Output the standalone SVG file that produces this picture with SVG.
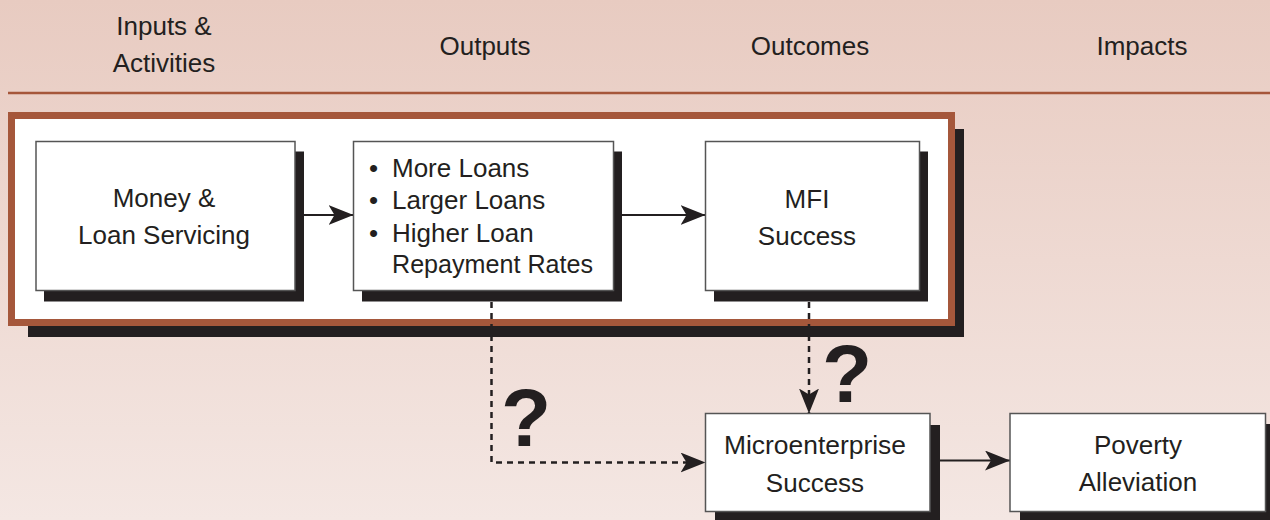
<svg xmlns="http://www.w3.org/2000/svg" width="1270" height="520" viewBox="0 0 1270 520">
<defs>
<linearGradient id="bg" x1="0" y1="0" x2="0" y2="1">
<stop offset="0" stop-color="#e8cbc1"/>
<stop offset="1" stop-color="#f4e7e3"/>
</linearGradient>
<marker id="ah" viewBox="0 0 25 20" refX="25" refY="10" markerWidth="25" markerHeight="20" markerUnits="userSpaceOnUse" orient="auto">
<path d="M0,0 L25,10 L0,20 L6,10 Z" fill="#231f20"/>
</marker>
<style>
.hd{font-family:"Liberation Sans",Arial,sans-serif;font-size:26px;fill:#231f20;text-anchor:middle}
.tx{font-family:"Liberation Sans",Arial,sans-serif;font-size:26px;fill:#231f20;text-anchor:middle}
.tl{font-family:"Liberation Sans",Arial,sans-serif;font-size:26px;fill:#231f20}
.q{font-family:"Liberation Sans",Arial,sans-serif;font-size:82px;font-weight:bold;fill:#231f20;text-anchor:middle}
.box{fill:#fff;stroke:#555;stroke-width:1.5}
.sh{fill:#231f20}
.ln{stroke:#231f20;stroke-width:2;fill:none}
.dl{stroke:#231f20;stroke-width:2.5;fill:none;stroke-dasharray:6 5}
</style>
</defs>
<rect x="0" y="0" width="1270" height="520" fill="url(#bg)"/>
<g id="headers">
<text class="hd" x="164" y="35">Inputs &amp;</text>
<text class="hd" x="164" y="72">Activities</text>
<text class="hd" x="485" y="55">Outputs</text>
<text class="hd" x="810" y="55">Outcomes</text>
<text class="hd" x="1142" y="55">Impacts</text>
<line x1="8" y1="93" x2="1270" y2="93" stroke="#a5563a" stroke-width="2.5"/>
</g>
<g id="frame">
<rect class="sh" x="28" y="129" width="936" height="208"/>
<rect x="11.5" y="115.5" width="940" height="207" fill="#fff" stroke="#a5573b" stroke-width="7"/>
</g>
<g id="connectors">
<line class="ln" x1="304" y1="215" x2="353.5" y2="215" marker-end="url(#ah)"/>
<line class="ln" x1="622" y1="215" x2="705.5" y2="215" marker-end="url(#ah)"/>
<path class="dl" d="M491.5,302 L491.5,462.5 L705.5,462.5" marker-end="url(#ah)"/>
<line class="dl" x1="809" y1="302" x2="809" y2="413.5" marker-end="url(#ah)"/>
<line class="ln" x1="940" y1="460.5" x2="1010" y2="460.5" marker-end="url(#ah)"/>
</g>
<g id="node-money">
<rect class="sh" x="44" y="151.5" width="260" height="150"/>
<rect class="box" x="36" y="141.5" width="259" height="149"/>
<text class="tx" x="164" y="207">Money &amp;</text>
<text class="tx" x="164" y="244">Loan Servicing</text>
</g>
<g id="node-outputs">
<rect class="sh" x="362" y="151.5" width="260" height="150"/>
<rect class="box" x="353.5" y="141.5" width="260" height="149"/>
<text class="tl" x="369" y="177">•</text>
<text class="tl" x="392" y="177">More Loans</text>
<text class="tl" x="369" y="209">•</text>
<text class="tl" x="392" y="209">Larger Loans</text>
<text class="tl" x="369" y="241.5">•</text>
<text class="tl" x="392" y="241.5">Higher Loan</text>
<text class="tl" x="392" y="272.5" textLength="201" lengthAdjust="spacingAndGlyphs">Repayment Rates</text>
</g>
<g id="node-mfi">
<rect class="sh" x="714" y="151.5" width="214" height="150"/>
<rect class="box" x="705.5" y="141.5" width="214" height="149"/>
<text class="tx" x="807" y="207.5">MFI</text>
<text class="tx" x="807" y="245">Success</text>
</g>
<g id="node-micro">
<rect class="sh" x="715" y="425" width="225" height="100"/>
<rect class="box" x="705.5" y="413.5" width="224.5" height="98"/>
<text class="tx" x="815" y="454" textLength="182" lengthAdjust="spacingAndGlyphs">Microenterprise</text>
<text class="tx" x="815" y="491.5">Success</text>
</g>
<g id="node-poverty">
<rect class="sh" x="1020" y="424" width="255" height="100"/>
<rect class="box" x="1010" y="413.5" width="255.5" height="98"/>
<text class="tx" x="1138" y="454">Poverty</text>
<text class="tx" x="1138" y="491">Alleviation</text>
</g>
<g id="questions">
<text class="q" x="526" y="445.5">?</text>
<text class="q" x="847" y="401.5">?</text>
</g>
</svg>
